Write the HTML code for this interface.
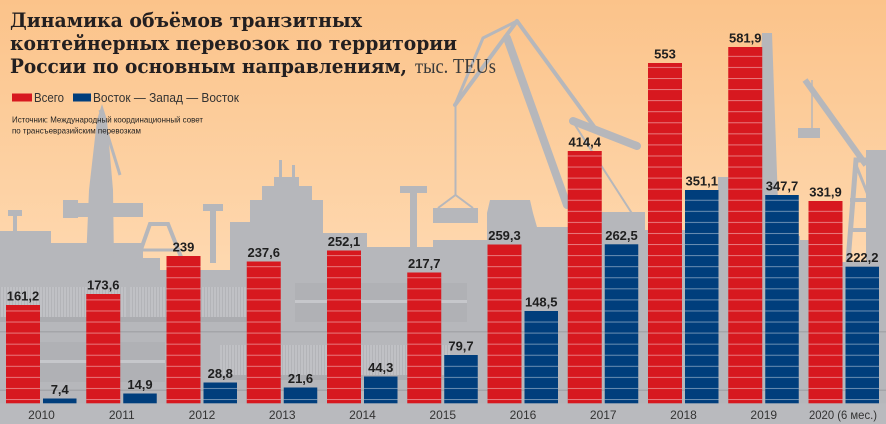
<!DOCTYPE html>
<html><head><meta charset="utf-8">
<style>
html,body{margin:0;padding:0;width:886px;height:424px;overflow:hidden;background:#fcc993}
svg{display:block}
</style></head><body>
<svg width="886" height="424" viewBox="0 0 886 424" xmlns="http://www.w3.org/2000/svg">
<defs>
<linearGradient id="bg" x1="0" y1="0" x2="0" y2="424" gradientUnits="userSpaceOnUse">
<stop offset="0" stop-color="#fbc38a"/>
<stop offset="0.62" stop-color="#fed8af"/>
<stop offset="1" stop-color="#fed8af"/>
</linearGradient>
<pattern id="st" patternUnits="userSpaceOnUse" width="20" height="11.07" y="0.5">
<rect x="0" y="0" width="20" height="1" fill="#ffffff" fill-opacity="0.42"/>
</pattern>
<pattern id="cont" patternUnits="userSpaceOnUse" width="3" height="10">
<rect x="0" y="0" width="3" height="10" fill="#c0c1c5"/>
<rect x="0" y="0" width="1" height="10" fill="#b3b4b8"/>
</pattern>
</defs>
<rect width="886" height="424" fill="url(#bg)"/>

<!-- silhouettes -->
<g fill="#b6b7bb" stroke="none">
<path d="M0,424 L0,231 L51,231 L51,243 L143,243 L143,258 L160,258 L160,270 L230,270 L230,222 L250,222 L250,200 L262,200 L262,186 L274,186 L274,177 L299,177 L299,186 L312,186 L312,200 L323,200 L323,233 L367,233 L367,247 L433,247 L433,240 L487,240 L487,213 L490,200 L530,200 L533,213 L537,227 L568,227 L568,212 L645,212 L645,230 L760,230 L760,226 L800,236 L800,240 L842,240 L842,262 L886,262 L886,424 Z"/>
<!-- left lamp tower -->
<rect x="8" y="210" width="14" height="6"/>
<rect x="13" y="214" width="4" height="20"/>
<!-- left crane -->
<polygon points="86,262 89,190 97,120 102,104 107,120 113,190 114,262"/>
<line x1="100" y1="110" x2="120" y2="175" stroke="#b6b7bb" stroke-width="3"/>
<rect x="65" y="203" width="78" height="14"/>
<rect x="63" y="200" width="15" height="18"/>
<!-- A-frame truss -->
<polyline points="133,272 150,224 168,224 187,272" fill="none" stroke="#b6b7bb" stroke-width="4"/>
<line x1="140" y1="250" x2="180" y2="250" stroke="#b6b7bb" stroke-width="3"/>
<!-- lamp towers -->
<rect x="203" y="204" width="20" height="7"/>
<rect x="210" y="208" width="6" height="55"/>
<rect x="400" y="186" width="27" height="7"/>
<rect x="410" y="190" width="7" height="60"/>
<!-- ship masts -->
<rect x="279" y="160" width="3" height="20"/>
<rect x="292" y="165" width="3" height="15"/>
<!-- hanging container -->
<rect x="433" y="208" width="45" height="15"/>
<line x1="455.5" y1="105" x2="455.5" y2="196" stroke="#b6b7bb" stroke-width="2"/>
<polyline points="438,208 455.5,195 473,208" fill="none" stroke="#b6b7bb" stroke-width="2"/>
<!-- big crane -->
<g stroke="#b6b7bb" fill="none" stroke-linecap="round">
<line x1="517" y1="21" x2="455" y2="105" stroke-width="4"/>
<polyline points="517,21 483,38 455,105" stroke-width="3"/>
<line x1="507" y1="38" x2="567" y2="205" stroke-width="8"/>
<line x1="517" y1="21" x2="598" y2="132" stroke-width="4"/>
<line x1="573" y1="121" x2="637" y2="146" stroke-width="8"/>
<line x1="575" y1="125" x2="633" y2="215" stroke-width="2"/>
</g>
<!-- lattice towers -->
<polygon points="762,33 772,33 779,230 755,230"/>
<rect x="718" y="177" width="11" height="60"/>
<!-- right crane -->
<g stroke="#b6b7bb" fill="none">
<line x1="805" y1="80" x2="866" y2="165" stroke-width="6"/>
<line x1="812" y1="80" x2="812" y2="128" stroke-width="1.5"/>
<polyline points="848,262 856,160 886,160" stroke-width="5"/>
<line x1="850" y1="200" x2="886" y2="200" stroke-width="4"/>
<line x1="852" y1="230" x2="886" y2="230" stroke-width="4"/>
<line x1="856" y1="165" x2="886" y2="240" stroke-width="3"/>
</g>
<rect x="798" y="128" width="22" height="10"/>
<rect x="866" y="150" width="20" height="112"/>
</g>

<!-- train details -->
<g>
<rect x="0" y="287" width="126" height="30" fill="url(#cont)"/>
<rect x="130" y="287" width="116" height="30" fill="url(#cont)"/>
<rect x="0" y="317" width="250" height="5" fill="#abacb0"/>
<rect x="295" y="283" width="172" height="39" fill="#b0b1b5"/>
<rect x="295" y="300" width="172" height="3" fill="#c6c7cb"/>
<rect x="0" y="331" width="886" height="1.5" fill="#a4a5a9"/>
<rect x="40" y="342" width="125" height="40" fill="#b0b1b5"/>
<rect x="40" y="360" width="125" height="3" fill="#c6c7cb"/>
<rect x="220" y="345" width="230" height="30" fill="url(#cont)"/>
<rect x="220" y="375" width="230" height="5" fill="#abacb0"/>
<rect x="0" y="389.5" width="886" height="1.5" fill="#a4a5a9"/>
<rect x="0" y="403.3" width="886" height="21" fill="#b9babe"/>
</g>

<!-- bars -->
<g>
<rect x="6" y="305" width="34" height="98.3" fill="#d7181f"/>
<rect x="86.25" y="294" width="34" height="109.3" fill="#d7181f"/>
<rect x="166.5" y="256" width="34" height="147.3" fill="#d7181f"/>
<rect x="246.75" y="261.5" width="34" height="141.8" fill="#d7181f"/>
<rect x="327" y="250.5" width="34" height="152.8" fill="#d7181f"/>
<rect x="407.25" y="272.5" width="34" height="130.8" fill="#d7181f"/>
<rect x="487.5" y="244.5" width="34" height="158.8" fill="#d7181f"/>
<rect x="567.75" y="151" width="34" height="252.3" fill="#d7181f"/>
<rect x="648" y="63" width="34" height="340.3" fill="#d7181f"/>
<rect x="728.25" y="47" width="34" height="356.3" fill="#d7181f"/>
<rect x="808.5" y="201" width="34" height="202.3" fill="#d7181f"/>

<rect x="43" y="398.5" width="33.5" height="4.8" fill="#003e7c"/>
<rect x="123.25" y="393.5" width="33.5" height="9.8" fill="#003e7c"/>
<rect x="203.5" y="382.5" width="33.5" height="20.8" fill="#003e7c"/>
<rect x="283.75" y="387.5" width="33.5" height="15.8" fill="#003e7c"/>
<rect x="364" y="376.5" width="33.5" height="26.8" fill="#003e7c"/>
<rect x="444.25" y="355" width="33.5" height="48.3" fill="#003e7c"/>
<rect x="524.5" y="311" width="33.5" height="92.3" fill="#003e7c"/>
<rect x="604.75" y="244.3" width="33.5" height="159" fill="#003e7c"/>
<rect x="685" y="190" width="33.5" height="213.3" fill="#003e7c"/>
<rect x="765.25" y="195" width="33.5" height="208.3" fill="#003e7c"/>
<rect x="845.5" y="266.7" width="33.5" height="136.6" fill="#003e7c"/>
</g>
<!-- stripes -->
<g fill="url(#st)">
<rect x="6" y="307" width="34" height="96.3"/>
<rect x="86.25" y="296" width="34" height="107.3"/>
<rect x="166.5" y="258" width="34" height="145.3"/>
<rect x="246.75" y="263.5" width="34" height="139.8"/>
<rect x="327" y="252.5" width="34" height="150.8"/>
<rect x="407.25" y="274.5" width="34" height="128.8"/>
<rect x="487.5" y="246.5" width="34" height="156.8"/>
<rect x="567.75" y="153" width="34" height="250.3"/>
<rect x="648" y="65" width="34" height="338.3"/>
<rect x="728.25" y="49" width="34" height="354.3"/>
<rect x="808.5" y="203" width="34" height="200.3"/>
<rect x="203.5" y="384.5" width="33.5" height="18.8"/>
<rect x="283.75" y="389.5" width="33.5" height="13.8"/>
<rect x="364" y="378.5" width="33.5" height="24.8"/>
<rect x="444.25" y="357" width="33.5" height="46.3"/>
<rect x="524.5" y="313" width="33.5" height="90.3"/>
<rect x="604.75" y="246.3" width="33.5" height="157"/>
<rect x="685" y="192" width="33.5" height="211.3"/>
<rect x="765.25" y="197" width="33.5" height="206.3"/>
<rect x="845.5" y="268.7" width="33.5" height="134.6"/>
</g>

<!-- value labels -->
<g font-family="Liberation Sans, Arial, sans-serif" font-weight="bold" font-size="13" fill="#1f1f1f" text-anchor="middle">
<text x="23" y="300.5">161,2</text>
<text x="103.25" y="289.5">173,6</text>
<text x="183.5" y="251.5">239</text>
<text x="263.75" y="257">237,6</text>
<text x="344" y="246">252,1</text>
<text x="424.25" y="268">217,7</text>
<text x="504.5" y="240">259,3</text>
<text x="584.75" y="146.5">414,4</text>
<text x="665" y="58.5">553</text>
<text x="745.25" y="42.5">581,9</text>
<text x="825.5" y="196.5">331,9</text>
<text x="59.75" y="394">7,4</text>
<text x="140" y="389">14,9</text>
<text x="220.25" y="378">28,8</text>
<text x="300.5" y="383">21,6</text>
<text x="380.75" y="372">44,3</text>
<text x="461" y="350.5">79,7</text>
<text x="541.25" y="306.5">148,5</text>
<text x="621.5" y="240">262,5</text>
<text x="701.75" y="185.5">351,1</text>
<text x="782" y="190.5">347,7</text>
<text x="862.25" y="262">222,2</text>
</g>

<!-- year labels -->
<g font-family="Liberation Sans, Arial, sans-serif" font-size="12" fill="#333333" text-anchor="middle">
<text x="41.5" y="419">2010</text>
<text x="121.75" y="419">2011</text>
<text x="202" y="419">2012</text>
<text x="282.25" y="419">2013</text>
<text x="362.5" y="419">2014</text>
<text x="442.75" y="419">2015</text>
<text x="523" y="419">2016</text>
<text x="603.25" y="419">2017</text>
<text x="683.5" y="419">2018</text>
<text x="763.75" y="419">2019</text>
<text x="843" y="419" textLength="68" lengthAdjust="spacingAndGlyphs">2020 (6 мес.)</text>
</g>

<!-- title -->
<g font-family="DejaVu Serif, Liberation Serif, serif" font-weight="bold" font-size="20" fill="#231f20">
<text x="10" y="27" textLength="352" lengthAdjust="spacingAndGlyphs">Динамика объёмов транзитных</text>
<text x="10" y="50" textLength="447" lengthAdjust="spacingAndGlyphs">контейнерных перевозок по территории</text>
<text x="10" y="73" textLength="397" lengthAdjust="spacingAndGlyphs">России по основным направлениям,</text>
</g>
<text x="415" y="73" font-family="Liberation Serif, serif" font-size="21" fill="#3a3a3a" textLength="81" lengthAdjust="spacingAndGlyphs">тыс. TEUs</text>

<!-- legend -->
<rect x="12" y="93.5" width="20" height="8" fill="#d7181f"/>
<text x="34" y="102" font-family="Liberation Sans, Arial, sans-serif" font-size="12.5" fill="#333" textLength="30" lengthAdjust="spacingAndGlyphs">Всего</text>
<rect x="73" y="93.5" width="18" height="8" fill="#003e7c"/>
<text x="93" y="102" font-family="Liberation Sans, Arial, sans-serif" font-size="12.5" fill="#333" textLength="146" lengthAdjust="spacingAndGlyphs">Восток — Запад — Восток</text>

<!-- source -->
<g font-family="Liberation Sans, Arial, sans-serif" font-size="8.5" fill="#222">
<text x="12" y="122.5" textLength="191" lengthAdjust="spacingAndGlyphs">Источник: Международный координационный совет</text>
<text x="12" y="133.5" textLength="129" lengthAdjust="spacingAndGlyphs">по трансъевразийским перевозкам</text>
</g>
</svg>
</body></html>
